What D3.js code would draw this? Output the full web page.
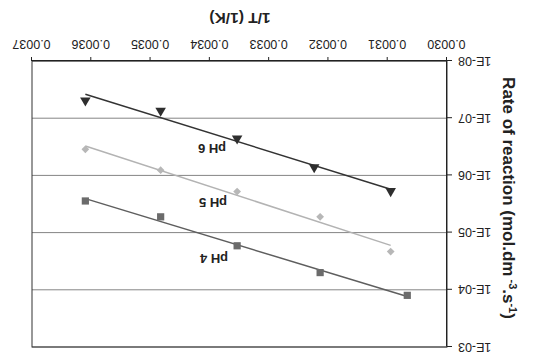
<!DOCTYPE html>
<html>
<head>
<meta charset="utf-8">
<script src="https://cdn.jsdelivr.net/npm/d3@7"></script>
<style>
  body { margin: 0; background: #fff; }
  text { font-family: "Liberation Sans", Arial, sans-serif; fill: #222; }
</style>
</head>
<body>
<div id="chart"></div>
<script>
var width = 533, height = 360;

// 1/T values (1/K) and rates (mol.dm-3.s-1)
var xPH6 = [0.003610, 0.003483, 0.003354, 0.003224, 0.003095];
var yPH6 = [4.9e-8, 7.4e-8, 2.26e-7, 7.2e-7, 1.88e-6];
var xPH5 = [0.003610, 0.003483, 0.003354, 0.003214, 0.003095];
var yPH5 = [3.5e-7, 8.1e-7, 1.92e-6, 5.3e-6, 2.15e-5];
var xPH4 = [0.003610, 0.003483, 0.003354, 0.003214, 0.003067];
var yPH4 = [2.8e-6, 5.3e-6, 1.7e-5, 5.0e-5, 1.25e-4];

var xTicks = [0.0030, 0.0031, 0.0032, 0.0033, 0.0034, 0.0035, 0.0036, 0.0037];
var yTicks = [1e-3, 1e-4, 1e-5, 1e-6, 1e-7, 1e-8];
var seriesNames = ["pH 4", "pH 5", "pH 6"];

var margin = {left: 86, right: 32, top: 13, bottom: 61};

var x = d3.scaleLinear()
    .domain([0.0030, 0.0037])
    .range([margin.left, width - margin.right]);
var y = d3.scaleLog()
    .domain([1e-8, 1e-3])
    .range([height - margin.bottom, margin.top]);

var series = [
  {name: seriesNames[0], xs: xPH4, ys: yPH4, color: "#6b6b6b", line: "#5e5e5e", shape: "square", lx: 319, ly: 103},
  {name: seriesNames[1], xs: xPH5, ys: yPH5, color: "#b7b7b7", line: "#b3b3b3", shape: "diamond", lx: 320, ly: 159},
  {name: seriesNames[2], xs: xPH6, ys: yPH6, color: "#2e2e2e", line: "#333", shape: "triangle", lx: 321, ly: 213}
];

var svg = d3.select("#chart").append("svg")
    .attr("width", width)
    .attr("height", height);

// the whole picture is shown upside down
var g = svg.append("g")
    .attr("transform", "rotate(180," + width / 2 + "," + height / 2 + ")");

// gridlines
g.append("g")
  .selectAll("line")
  .data(yTicks)
  .enter().append("line")
    .attr("x1", x.range()[0])
    .attr("x2", x.range()[1])
    .attr("y1", d => y(d))
    .attr("y2", d => y(d))
    .attr("stroke", "#858585")
    .attr("stroke-width", 1);

// plot frame
g.append("rect")
    .attr("x", x.range()[0])
    .attr("y", y.range()[1])
    .attr("width", x.range()[1] - x.range()[0])
    .attr("height", y.range()[0] - y.range()[1])
    .attr("fill", "none")
    .attr("stroke", "#333")
    .attr("stroke-width", 1);

var xAxis = g.append("g")
    .attr("transform", "translate(0," + y.range()[0] + ")")
    .call(d3.axisBottom(x).tickValues(xTicks).tickFormat(d3.format(".4f")).tickSize(4).tickSizeOuter(0));

var yAxis = g.append("g")
    .attr("transform", "translate(" + x.range()[0] + ",0)")
    .call(d3.axisLeft(y).tickValues(yTicks).tickSize(5).tickSizeOuter(0).tickPadding(6)
      .tickFormat(function(d) {
        var e = Math.round(Math.log10(d));
        return "1E-" + (e < 0 ? ("0" + (-e)).slice(-2) : e);
      }));

[xAxis, yAxis].forEach(function(a) {
  a.select(".domain").attr("stroke", "#222");
  a.selectAll(".tick line").attr("stroke", "#222");
  a.selectAll(".tick text")
    .style("font-family", "'Liberation Sans', Arial, sans-serif")
    .style("font-size", "12.5px")
    .attr("fill", "#222");
});
xAxis.selectAll(".tick text").attr("y", 12).attr("dy", "0.71em");

// trendlines (exponential fit, i.e. linear in log10 of the rate)
function fit(xs, ys) {
  var ly = ys.map(v => Math.log10(v));
  var mx = d3.mean(xs), my = d3.mean(ly);
  var sxy = d3.sum(xs, (v, i) => (v - mx) * (ly[i] - my));
  var sxx = d3.sum(xs, v => (v - mx) * (v - mx));
  var b = sxy / sxx;
  return function(v) { return Math.pow(10, my + b * (v - mx)); };
}

series.forEach(function(s) {
  var f = fit(s.xs, s.ys);
  var ext = d3.extent(s.xs);
  g.append("line")
    .attr("x1", x(ext[0])).attr("y1", y(f(ext[0])))
    .attr("x2", x(ext[1])).attr("y2", y(f(ext[1])))
    .attr("stroke", s.line)
    .attr("stroke-width", 1.5);

  var sym = s.shape == "triangle" ? d3.symbol(d3.symbolTriangle, 48)
          : s.shape == "square" ? d3.symbol(d3.symbolSquare, 52)
          : d3.symbol(d3.symbolSquare, 30);
  g.append("g")
    .selectAll("path")
    .data(s.xs.map((v, i) => [v, s.ys[i]]))
    .enter().append("path")
      .attr("d", sym)
      .attr("transform", d => "translate(" + x(d[0]) + "," + y(d[1]) + ")" + (s.shape == "diamond" ? " rotate(45)" : ""))
      .attr("fill", s.color);

  g.append("text")
    .attr("x", s.lx)
    .attr("y", s.ly)
    .attr("text-anchor", "middle")
    .attr("dominant-baseline", "middle")
    .style("font-size", "13px")
    .style("font-weight", "bold")
    .text(s.name);
});

// axis titles
g.append("text")
    .attr("x", 293)
    .attr("y", 347)
    .attr("text-anchor", "middle")
    .style("font-size", "15.5px")
    .style("font-weight", "bold")
    .text("1/T (1/K)");

var yt = g.append("text")
    .attr("transform", "translate(30,162) rotate(-90)")
    .attr("text-anchor", "middle")
    .style("font-size", "17px")
    .style("font-weight", "bold");
yt.append("tspan").text("Rate of reaction (mol.dm");
yt.append("tspan").attr("dy", -6).style("font-size", "11px").text(" -3");
yt.append("tspan").attr("dy", 6).text(".s");
yt.append("tspan").attr("dy", -6).style("font-size", "11px").text("-1");
yt.append("tspan").attr("dy", 6).text(")");
</script>
</body>
</html>
